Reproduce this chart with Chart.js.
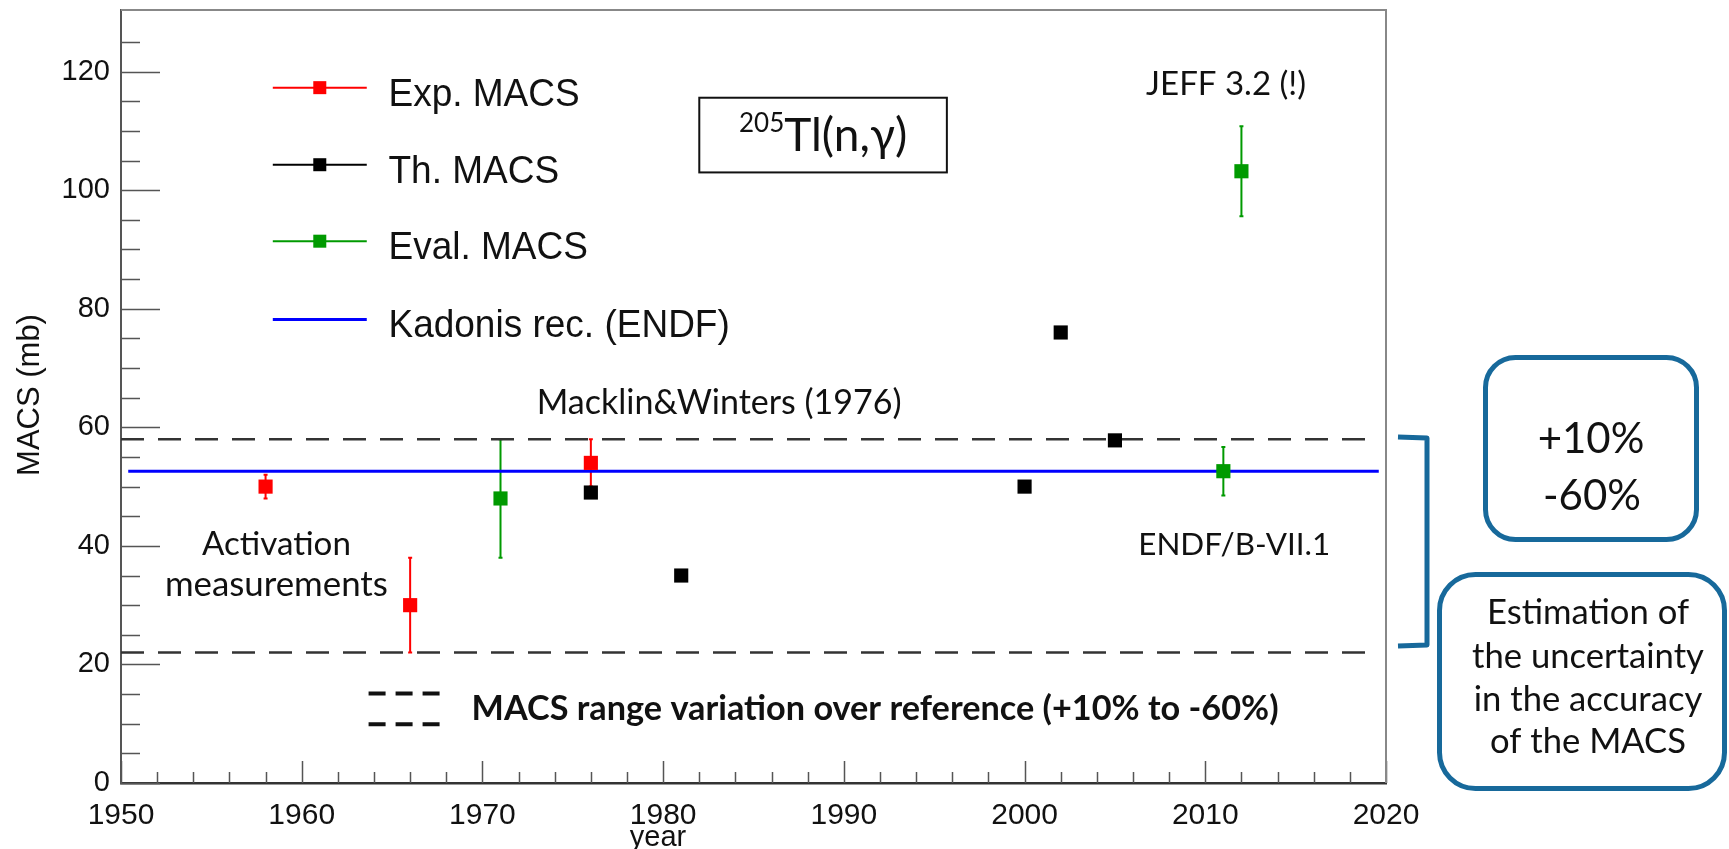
<!DOCTYPE html>
<html>
<head>
<meta charset="utf-8">
<script src="https://cdn.jsdelivr.net/npm/chart.js@4.4.1/dist/chart.umd.min.js"></script>
<style>
  html, body { margin: 0; padding: 0; background: #fff; }
  #wrap { width: 1729px; height: 849px; position: relative; }
</style>
</head>
<body>
<div id="wrap"><canvas id="macs"></canvas></div>
<script>
// valores (MACS em mb)
const expYears = [1958, 1966, 1976];
const expMacs = [50, 30, 54];
const expErr = [2, 8, 4];

const thYears = [1976, 1981, 2000, 2002, 2005];
const thMacs = [49, 35, 50, 76, 57.8];

const evalYears = [1971, 2011, 2012];
const evalMacs = [48, 52.6, 103.2];
const evalErr = [10, 4.1, 7.6];

// recomendação Kadonis e faixa +10% / -60%
const kadonisYears = [1950.4, 2019.6];
const kadonisMacs = [52.6, 52.6];
const rangeYears = [1950, 2019.6];
const rangeUpper = [58, 58];
const rangeLower = [22, 22];

// etiquetas dos eixos
const xLabels = [1950, 1960, 1970, 1980, 1990, 2000, 2010, 2020];
const yLabels = [0, 20, 40, 60, 80, 100, 120];

const ROOT_FONT = "'Liberation Sans', Arial, sans-serif";
const OFFICE_FONT = "Lato, 'Open Sans', sans-serif";
const BOX_BLUE = '#17699b';

function pts(xs, ys) {
  return xs.map((v, i) => ({ x: v, y: ys[i] }));
}

// fonte ajustada a uma largura alvo
function fitSize(ctx, text, weight, family, width) {
  ctx.font = `${weight} 100px ${family}`;
  return 100 * width / ctx.measureText(text).width;
}

// barras de erro verticais (estilo ROOT)
const errorBars = {
  id: 'errorBars',
  beforeDatasetsDraw(chart) {
    const { ctx, scales: { x, y } } = chart;
    chart.data.datasets.forEach(ds => {
      if (!ds.errors) return;
      ctx.save();
      ctx.strokeStyle = ds.backgroundColor;
      ctx.lineWidth = 2;
      ds.data.forEach((p, j) => {
        const e = ds.errors[j];
        const px = x.getPixelForValue(p.x);
        const top = y.getPixelForValue(p.y + e);
        const bot = y.getPixelForValue(p.y - e);
        ctx.beginPath();
        ctx.moveTo(px, top); ctx.lineTo(px, bot);
        ctx.moveTo(px - 2, top); ctx.lineTo(px + 2, top);
        ctx.moveTo(px - 2, bot); ctx.lineTo(px + 2, bot);
        ctx.stroke();
      });
      ctx.restore();
    });
  }
};

// ticks para dentro + moldura
const rootFrame = {
  id: 'rootFrame',
  afterDatasetsDraw(chart) {
    const { ctx, chartArea: a, scales: { x, y } } = chart;
    ctx.save();
    ctx.strokeStyle = '#555';
    ctx.lineWidth = 1.5;
    ctx.beginPath();
    x.ticks.forEach(t => {
      if (t.value % 2 !== 0) return;
      const px = Math.round(x.getPixelForValue(t.value)) + 0.5;
      const len = t.value % 10 === 0 ? 22 : 11;
      ctx.moveTo(px, a.bottom);
      ctx.lineTo(px, a.bottom - len);
    });
    y.ticks.forEach(t => {
      if (t.value % 5 !== 0) return;
      const py = Math.round(y.getPixelForValue(t.value)) + 0.5;
      const len = t.value % 20 === 0 ? 39 : 19;
      ctx.moveTo(a.left, py);
      ctx.lineTo(a.left + len, py);
    });
    ctx.stroke();
    ctx.strokeStyle = '#888';
    ctx.lineWidth = 2;
    ctx.beginPath();
    ctx.moveTo(a.left, a.top);
    ctx.lineTo(a.right, a.top);
    ctx.lineTo(a.right, a.bottom);
    ctx.stroke();
    ctx.restore();
  }
};

// legenda dentro do gráfico
const rootLegend = {
  id: 'rootLegend',
  afterDraw(chart) {
    const { ctx, scales: { x, y } } = chart;
    const rows = [117.3, 104.3, 91.4, 78.2];
    const entries = chart.data.datasets.filter(d => d.inLegend);
    const x0 = x.getPixelForValue(1958.4);
    const x1 = x.getPixelForValue(1963.6);
    const xm = x.getPixelForValue(1961.0);
    const xt = x.getPixelForValue(1964.8);
    ctx.save();
    ctx.font = `37px ${ROOT_FONT}`;
    ctx.textBaseline = 'alphabetic';
    ctx.textAlign = 'left';
    entries.forEach((d, i) => {
      const py = y.getPixelForValue(rows[i]);
      ctx.strokeStyle = d.legendColor;
      ctx.lineWidth = d.legendMarker ? 2 : 3;
      ctx.beginPath();
      ctx.moveTo(x0, py); ctx.lineTo(x1, py);
      ctx.stroke();
      if (d.legendMarker) {
        ctx.fillStyle = d.legendColor;
        ctx.fillRect(xm - 6.5, py - 6.5, 13, 13);
      }
      ctx.fillStyle = '#111';
      ctx.save();
      ctx.translate(xt, py + 18);
      ctx.scale(1, 1.06);
      ctx.fillText(d.label, 0, 0);
      ctx.restore();
    });
    ctx.restore();
  }
};

// textos, caixas e chaveta
const notes = {
  id: 'notes',
  afterDraw(chart) {
    const { ctx, scales: { x, y } } = chart;
    ctx.save();

    // títulos dos eixos
    ctx.fillStyle = '#111';
    ctx.font = `29px ${ROOT_FONT}`;
    ctx.textAlign = 'center';
    ctx.textBaseline = 'middle';
    ctx.fillText('year', 658, 838);
    ctx.save();
    ctx.translate(30, 395);
    ctx.rotate(-Math.PI / 2);
    ctx.font = `31px ${ROOT_FONT}`;
    ctx.fillText('MACS (mb)', 0, 0);
    ctx.restore();

    // anotações dentro da área
    const labels = [
      ['Macklin&Winters (1976)', 1983.1, 64.1, 365],
      ['Activation', 1958.6, 40.3, 149],
      ['measurements', 1958.6, 33.5, 223],
      ['ENDF/B-VII.1', 2011.6, 40.2, 192],
      ['JEFF 3.2 (!)', 2011.15, 117.8, 160]
    ];
    labels.forEach(([t, vx, vy, w]) => {
      const s = fitSize(ctx, t, 400, OFFICE_FONT, w);
      ctx.font = `400 ${s}px ${OFFICE_FONT}`;
      ctx.fillText(t, x.getPixelForValue(vx), y.getPixelForValue(vy));
    });

    // linha tracejada da legenda inferior
    ctx.strokeStyle = '#111';
    ctx.lineWidth = 4;
    ctx.setLineDash([17, 10]);
    [15.1, 9.9].forEach(v => {
      const py = y.getPixelForValue(v);
      ctx.beginPath();
      ctx.moveTo(x.getPixelForValue(1963.7), py);
      ctx.lineTo(x.getPixelForValue(1967.7), py);
      ctx.stroke();
    });
    ctx.setLineDash([]);
    const bold = 'MACS range variation over reference (+10% to -60%)';
    const bs = fitSize(ctx, bold, 700, OFFICE_FONT, 807);
    ctx.font = `700 ${bs}px ${OFFICE_FONT}`;
    ctx.textAlign = 'left';
    ctx.fillText(bold, x.getPixelForValue(1969.4), y.getPixelForValue(12.5));

    // caixa 205Tl(n,γ)
    const bx0 = x.getPixelForValue(1982.0), bx1 = x.getPixelForValue(1995.7);
    const by0 = y.getPixelForValue(115.6), by1 = y.getPixelForValue(103.0);
    ctx.lineWidth = 2;
    ctx.strokeStyle = '#111';
    ctx.strokeRect(bx0, by0, bx1 - bx0, by1 - by0);
    ctx.font = `400 26px ${OFFICE_FONT}`;
    const wSup = ctx.measureText('205').width;
    ctx.font = `400 46px ${OFFICE_FONT}`;
    const wMain = ctx.measureText('Tl(n,γ)').width;
    const sx = (bx0 + bx1) / 2 - (wSup + wMain) / 2;
    const base = (by0 + by1) / 2 + 16;
    ctx.textBaseline = 'alphabetic';
    ctx.font = `400 26px ${OFFICE_FONT}`;
    ctx.fillText('205', sx, base - 19);
    ctx.font = `400 46px ${OFFICE_FONT}`;
    ctx.fillText('Tl(n,γ)', sx + wSup, base);

    // chaveta e caixas à direita
    ctx.strokeStyle = BOX_BLUE;
    ctx.lineWidth = 5;
    ctx.lineJoin = 'round';
    ctx.beginPath();
    ctx.moveTo(1398, 437);
    ctx.lineTo(1427, 438);
    ctx.lineTo(1427, 645);
    ctx.lineTo(1398, 646);
    ctx.stroke();

    ctx.fillStyle = '#fff';
    ctx.beginPath();
    ctx.roundRect(1485.5, 357.5, 211, 182, 30);
    ctx.fill();
    ctx.stroke();
    ctx.beginPath();
    ctx.roundRect(1439.5, 574.5, 285, 214, 36);
    ctx.fill();
    ctx.stroke();

    ctx.fillStyle = '#111';
    ctx.textAlign = 'center';
    ctx.font = `400 42px ${OFFICE_FONT}`;
    ctx.fillText('+10%', 1591, 453);
    ctx.fillText('-60%', 1592, 510);

    const es = fitSize(ctx, 'the uncertainty', 400, OFFICE_FONT, 232);
    ctx.font = `400 ${es}px ${OFFICE_FONT}`;
    [['Estimation of', 624], ['the uncertainty', 668], ['in the accuracy', 711], ['of the MACS', 753]]
      .forEach(([t, by]) => ctx.fillText(t, 1588, by));

    ctx.restore();
  }
};

const ctx = document.getElementById('macs').getContext('2d');
new Chart(ctx, {
  type: 'scatter',
  data: {
    datasets: [{
      label: 'Exp. MACS',
      data: pts(expYears, expMacs),
      errors: expErr,
      backgroundColor: '#ff0000',
      legendColor: '#ff0000',
      inLegend: true,
      legendMarker: true,
      pointStyle: 'rect',
      pointRadius: 10,
      pointBorderWidth: 0,
      order: 0
    }, {
      label: 'Th. MACS',
      data: pts(thYears, thMacs),
      backgroundColor: '#000000',
      legendColor: '#000000',
      inLegend: true,
      legendMarker: true,
      pointStyle: 'rect',
      pointRadius: 10,
      pointBorderWidth: 0,
      order: 0
    }, {
      label: 'Eval. MACS',
      data: pts(evalYears, evalMacs),
      errors: evalErr,
      backgroundColor: '#009a00',
      legendColor: '#009a00',
      inLegend: true,
      legendMarker: true,
      pointStyle: 'rect',
      pointRadius: 10,
      pointBorderWidth: 0,
      order: 0
    }, {
      label: 'Kadonis rec. (ENDF)',
      type: 'line',
      data: pts(kadonisYears, kadonisMacs),
      borderColor: '#0000ff',
      legendColor: '#0000ff',
      inLegend: true,
      legendMarker: false,
      borderWidth: 3,
      pointRadius: 0,
      order: 5
    }, {
      label: '+10%',
      type: 'line',
      data: pts(rangeYears, rangeUpper),
      borderColor: '#333',
      borderWidth: 2.5,
      borderDash: [23, 14],
      pointRadius: 0,
      order: 6
    }, {
      label: '-60%',
      type: 'line',
      data: pts(rangeYears, rangeLower),
      borderColor: '#333',
      borderWidth: 2.5,
      borderDash: [23, 14],
      pointRadius: 0,
      order: 6
    }]
  },
  options: {
    responsive: true,
    maintainAspectRatio: false,
    animation: false,
    layout: { padding: { left: 0, top: 9, right: 343, bottom: 0 } },
    plugins: {
      legend: { display: false },
      tooltip: { enabled: false }
    },
    scales: {
      x: {
        type: 'linear',
        min: 1950,
        max: 2020,
        grid: { display: false },
        border: { display: true, color: '#333', width: 2.5 },
        afterFit(scale) {
          scale.height = 66;
          scale.paddingLeft = 0;
          scale.paddingRight = 0;
        },
        ticks: {
          stepSize: 2,
          autoSkip: false,
          maxRotation: 0,
          padding: 7,
          color: '#111',
          font: { family: ROOT_FONT, size: 30 },
          callback: v => xLabels.includes(v) ? String(v) : ''
        }
      },
      y: {
        min: 0,
        max: 130.4,
        grid: { display: false },
        border: { display: true, color: '#555', width: 2 },
        afterFit(scale) {
          scale.width = 121;
          scale.paddingTop = 0;
          scale.paddingBottom = 0;
        },
        ticks: {
          stepSize: 5,
          autoSkip: false,
          padding: 3,
          color: '#111',
          font: { family: ROOT_FONT, size: 29 },
          callback: v => yLabels.includes(v) ? String(v) : ''
        }
      }
    }
  },
  plugins: [errorBars, rootFrame, rootLegend, notes]
});
</script>
</body>
</html>
